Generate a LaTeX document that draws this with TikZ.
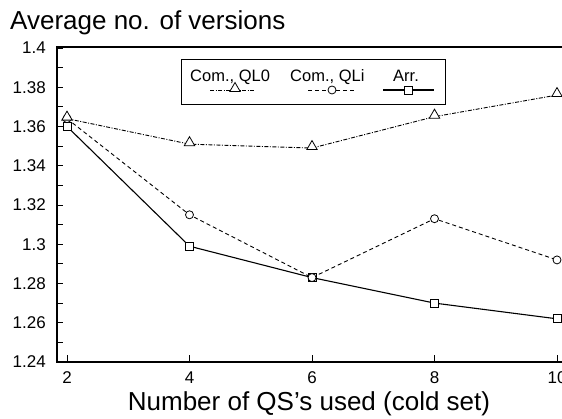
\documentclass[tikz,border=0pt]{standalone}
\usepackage{fontspec}
\setmainfont{Liberation Sans}
\usetikzlibrary{shapes.geometric}
\begin{document}
\begin{tikzpicture}[x=1pt,y=-1pt,
  declare function={px(\v)=67+(\v-2)*61.25; py(\w)=48+(1.4-\w)*1962.5;},
  axisline/.style={line width=1.3pt},
  tickmark/.style={line width=0.8pt},
  ql0line/.style={line width=0.9pt, dash pattern=on 4pt off 1.5pt on 1pt off 1.5pt},
  qliline/.style={line width=0.9pt, dash pattern=on 4pt off 3pt},
  arrline/.style={line width=1.1pt},
  trimark/.style={regular polygon, regular polygon sides=3, draw, fill=white, inner sep=0pt, minimum size=12pt, line width=0.8pt},
  circmark/.style={circle, draw, fill=white, inner sep=0pt, minimum size=8pt, line width=0.8pt},
  sqmark/.style={rectangle, draw, fill=white, inner sep=0pt, minimum size=8pt, line width=0.8pt},
  ticklabel/.style={font=\fontsize{17}{17}\selectfont, inner sep=0pt},
  legtext/.style={font=\fontsize{16.5}{16.5}\selectfont, inner sep=0pt, anchor=base west},
]
\useasboundingbox (0,0) rectangle (562,419);
\fill[white] (0,0) rectangle (562,419);

% axes frame (right side runs off the page)
\coordinate (tl) at (57,47);
\coordinate (tr) at (565,47);
\coordinate (o) at (57,362);
\coordinate (br) at (565,362);
\draw[axisline] (tr) -- (tl) -- (o) -- (br);

% y ticks every 0.01, labels every 0.02
\foreach \k in {0,...,16}
  \draw[tickmark] (57,{48+\k*19.625}) -- (63,{48+\k*19.625});
\foreach \v [count=\i] in {1.24,1.26,1.28,1.3,1.32,1.34,1.36,1.38,1.4}
  \node[ticklabel, anchor=east] (ylab\i) at (46,{py(\v)}) {\v};

% x ticks and labels
\foreach \v in {2,4,6,8,10} {
  \draw[tickmark] ({px(\v)},362) -- ({px(\v)},355);
  \node[ticklabel, anchor=base, text height=12pt, text depth=0pt] (xlab\v) at ({px(\v)},383) {\v};
}

% axis titles
\node[anchor=base west, font=\fontsize{26}{26}\selectfont, inner sep=0pt] (ytitle) at (10,30) {Average no. of versions};
\node[anchor=base, font=\fontsize{26}{26}\selectfont, inner sep=0pt, text height=19pt, text depth=5pt] (xtitle) at (309,410) {Number of QS’s used (cold set)};

% data points
\foreach \x/\a/\b/\c in {2/1.364/1.364/1.360, 4/1.351/1.315/1.299, 6/1.349/1.283/1.283, 8/1.365/1.313/1.270, 10/1.376/1.292/1.262} {
  \coordinate (q\x) at ({px(\x)},{py(\a)});
  \coordinate (i\x) at ({px(\x)},{py(\b)});
  \coordinate (r\x) at ({px(\x)},{py(\c)});
}

% curves
\draw[ql0line] (q2) -- (q4) -- (q6) -- (q8) -- (q10);
\draw[qliline] (i2) -- (i4) -- (i6) -- (i8) -- (i10);
\draw[arrline] (r2) -- (r4) -- (r6) -- (r8) -- (r10);

% markers
\foreach \x in {2,4,6,8,10} {
  \node[sqmark] (mr\x) at (r\x) {};
  \node[circmark] (mi\x) at (i\x) {};
  \node[trimark, yshift=1.5pt] (mq\x) at (q\x) {};
}

% legend
\node[draw, line width=0.8pt, minimum width=264pt, minimum height=45pt, anchor=north west, inner sep=0pt] (legend) at (181,59) {};
\node[legtext] (lt1) at (190,82) {Com., QL0};
\node[legtext] (lt2) at (290,82) {Com., QLi};
\node[legtext] (lt3) at (393,82) {Arr.};
\coordinate (la1) at (210,90); \coordinate (lb1) at (254,90);
\coordinate (la2) at (308,90); \coordinate (lb2) at (356,90);
\coordinate (la3) at (383,90); \coordinate (lb3) at (434,90);
\draw[ql0line] (la1) -- (lb1);
\draw[qliline] (la2) -- (lb2);
\draw[arrline] (la3) -- (lb3);
\node[trimark, yshift=1.5pt] (lm1) at (235,90) {};
\node[circmark] (lm2) at (332,90) {};
\node[sqmark] (lm3) at (408,90) {};
\end{tikzpicture}
\end{document}
